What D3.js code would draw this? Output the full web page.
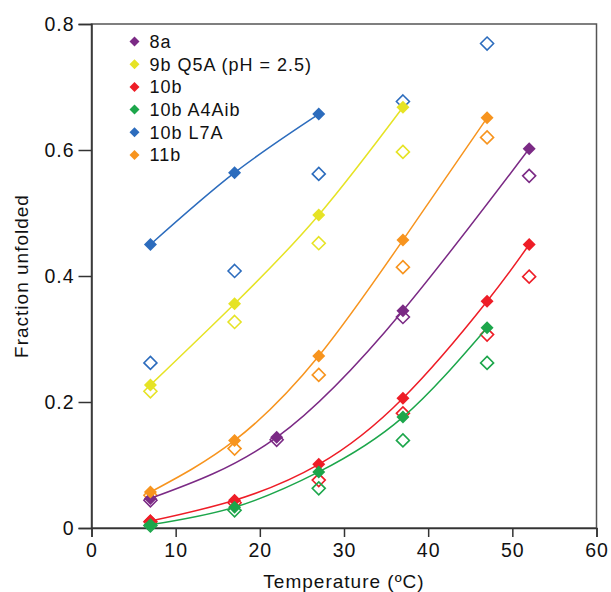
<!DOCTYPE html>
<html>
<head>
<meta charset="utf-8">
<script src="https://cdn.jsdelivr.net/npm/d3@7"></script>
<style>
  body { margin: 0; background: #fff; }
  svg { font-family: "Liberation Sans", Arial, sans-serif; }
</style>
</head>
<body>
<svg id="chart" width="611" height="592"></svg>
<script>
// series names (legend order)
const names = ["8a", "9b Q5A (pH = 2.5)", "10b", "10b A4Aib", "10b L7A", "11b"];
const colors = ["#7b2a85", "#e6e325", "#ee1d27", "#1ca64b", "#2c6cbd", "#f7941e"];

// filled points (fitted), temperature / fraction
const temps8a = [7, 22, 37, 52];
const fill8a = [0.047, 0.144, 0.345, 0.602];
const open8a = [0.044, 0.140, 0.335, 0.559];

const temps9b = [7, 17, 27, 37];
const fill9b = [0.227, 0.356, 0.497, 0.668];
const open9b = [0.217, 0.327, 0.452, 0.597];

const temps10b = [7, 17, 27, 37, 47, 52];
const fill10b = [0.011, 0.044, 0.101, 0.206, 0.360, 0.450];
const open10b = [0.010, 0.040, 0.076, 0.182, 0.307, 0.399];

const temps10bA4 = [7, 17, 27, 37, 47];
const fill10bA4 = [0.005, 0.033, 0.089, 0.176, 0.318];
const open10bA4 = [0.004, 0.028, 0.063, 0.139, 0.262];

const tempsL7AFill = [7, 17, 27];
const fillL7A = [0.450, 0.564, 0.657];
const tempsL7AOpen = [7, 17, 27, 37, 47];
const openL7A = [0.262, 0.408, 0.562, 0.677, 0.769];

const temps11b = [7, 17, 27, 37, 47];
const fill11b = [0.057, 0.139, 0.273, 0.457, 0.651];
const open11b = [0.052, 0.126, 0.243, 0.414, 0.620];

const xTicks = [0, 10, 20, 30, 40, 50, 60];
const yTicks = [0, 0.2, 0.4, 0.6, 0.8];

const zip = (xs, ys) => xs.map((t, i) => ({ t: t, v: ys[i] }));

const series = [
  { fill: zip(temps8a, fill8a), open: zip(temps8a, open8a) },
  { fill: zip(temps9b, fill9b), open: zip(temps9b, open9b) },
  { fill: zip(temps10b, fill10b), open: zip(temps10b, open10b) },
  { fill: zip(temps10bA4, fill10bA4), open: zip(temps10bA4, open10bA4) },
  { fill: zip(tempsL7AFill, fillL7A), open: zip(tempsL7AOpen, openL7A) },
  { fill: zip(temps11b, fill11b), open: zip(temps11b, open11b) }
];
series.forEach((s, i) => { s.name = names[i]; s.color = colors[i]; });

const margin = { top: 24, right: 14.5, bottom: 64, left: 91.5 };
const svg = d3.select("#chart");
const width = +svg.attr("width") - margin.left - margin.right;
const height = +svg.attr("height") - margin.top - margin.bottom;

const g = svg.append("g").attr("transform", `translate(${margin.left},${margin.top})`);

const x = d3.scaleLinear().domain([0, 60]).range([0, width]);
const y = d3.scaleLinear().domain([0, 0.8]).range([height, 0]);

const axisColor = "#333";

// frame (top / right)
g.append("rect")
  .attr("width", width)
  .attr("height", height)
  .attr("fill", "none")
  .attr("stroke", "#555")
  .attr("stroke-width", 1.5);

const styleText = (sel, size) => sel
  .attr("fill", "#111")
  .style("font-size", size + "px")
  .style("letter-spacing", "1px")
  .style("font-family", "Liberation Sans, Arial, sans-serif");

// x axis
g.append("g")
  .attr("transform", `translate(0,${height})`)
  .call(d3.axisBottom(x).tickValues(xTicks).tickSizeOuter(0).tickSize(9).tickPadding(6).tickFormat(d3.format("d")))
  .call((a) => {
    a.select(".domain").attr("stroke", axisColor).attr("stroke-width", 1.5);
    a.selectAll(".tick line").attr("stroke", axisColor).attr("stroke-width", 1.5);
    styleText(a.selectAll("text"), 19.5);
  });

// y axis
g.append("g")
  .call(d3.axisLeft(y).tickValues(yTicks).tickSizeOuter(0).tickSize(13).tickPadding(4)
    .tickFormat((d) => (d === 0 ? "0" : d3.format(".1f")(d))))
  .call((a) => {
    a.select(".domain").attr("stroke", axisColor).attr("stroke-width", 1.5);
    a.selectAll(".tick line").attr("stroke", axisColor).attr("stroke-width", 1.5);
    styleText(a.selectAll("text"), 19.5);
  });

// axis titles
svg.append("text")
  .attr("x", margin.left + width / 2)
  .attr("y", 588)
  .attr("text-anchor", "middle")
  .call(styleText, 19)
  .text("Temperature (\u00baC)");

svg.append("text")
  .attr("transform", `translate(28,${margin.top + height / 2}) rotate(-90)`)
  .attr("text-anchor", "middle")
  .call(styleText, 19)
  .text("Fraction unfolded");

const diamond = (r) => `M0,${-r}L${r},0L0,${r}L${-r},0Z`;

const line = d3.line()
  .x((d) => x(d.t))
  .y((d) => y(d.v))
  .curve(d3.curveNatural);

// open markers
series.forEach((s) => {
  g.append("g")
    .selectAll("path")
    .data(s.open)
    .join("path")
    .attr("d", diamond(6.5))
    .attr("transform", (d) => `translate(${x(d.t)},${y(d.v)})`)
    .attr("fill", "none")
    .attr("stroke", s.color)
    .attr("stroke-width", 1.6);
});

// fit lines
series.forEach((s) => {
  g.append("path")
    .datum(s.fill)
    .attr("fill", "none")
    .attr("stroke", s.color)
    .attr("stroke-width", 1.5)
    .attr("d", line);
});

// filled markers
series.forEach((s) => {
  g.append("g")
    .selectAll("path")
    .data(s.fill)
    .join("path")
    .attr("d", diamond(6.5))
    .attr("transform", (d) => `translate(${x(d.t)},${y(d.v)})`)
    .attr("fill", s.color);
});

// legend
const legend = g.append("g").attr("transform", "translate(43,17.5)");
const row = legend.selectAll("g")
  .data(series)
  .join("g")
  .attr("transform", (d, i) => `translate(0,${i * 22.7})`);

row.append("path")
  .attr("d", diamond(5))
  .attr("fill", (d) => d.color);

row.append("text")
  .attr("x", 15)
  .attr("dy", "0.36em")
  .call(styleText, 18)
  .text((d) => d.name);
</script>
</body>
</html>
